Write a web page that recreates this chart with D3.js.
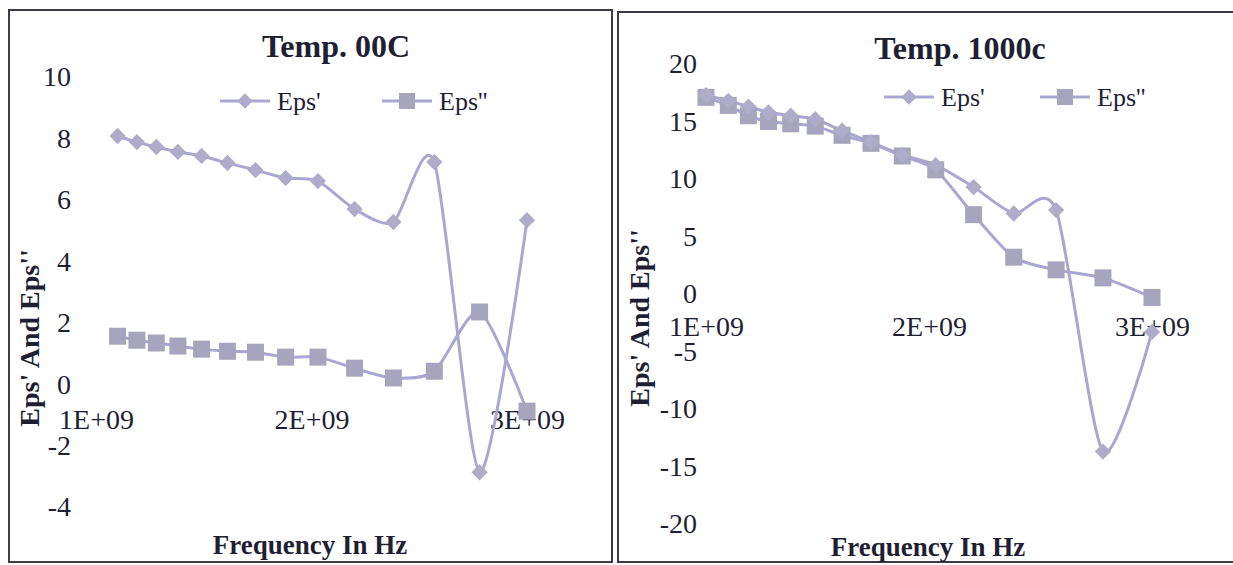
<!DOCTYPE html>
<html>
<head>
<meta charset="utf-8">
<script src="https://d3js.org/d3.v7.min.js"></script>
<title>Eps' and Eps'' vs frequency</title>
<style>
  body { margin: 0; background: #fff; }
  text { font-family: "Liberation Serif", "Times New Roman", serif; fill: #1f1f33; }
</style>
</head>
<body>
<script>
// frequencies in Hz (shared by both panels, left one starts at the 2nd)
var freq = [1.0e9, 1.1e9, 1.19e9, 1.28e9, 1.38e9, 1.49e9, 1.61e9, 1.74e9,
            1.88e9, 2.03e9, 2.2e9, 2.38e9, 2.57e9, 2.78e9, 3.0e9];

// Temp. 00C
var freq00 = freq.slice(1);
var epsP00  = [8.08, 7.88, 7.72, 7.56, 7.43, 7.2, 6.97, 6.71, 6.61, 5.7, 5.28, 7.23, -2.87, 5.34];
var epsPP00 = [1.56, 1.43, 1.34, 1.24, 1.14, 1.07, 1.04, 0.88, 0.88, 0.52, 0.2, 0.42, 2.35, -0.88];

// Temp. 1000c
var freq1000 = freq;
var epsP1000  = [17.3, 16.8, 16.3, 15.8, 15.5, 15.2, 14.2, 13.2, 12.1, 11.2, 9.3, 7.0, 7.3, -13.7, -3.3];
var epsPP1000 = [17.1, 16.4, 15.5, 15.0, 14.8, 14.6, 13.8, 13.1, 12.0, 10.8, 6.9, 3.2, 2.1, 1.4, -0.3];

var xTicks = [1e9, 2e9, 3e9];
var xTickLabels = ["1E+09", "2E+09", "3E+09"];
var yTicks00 = [-4, -2, 0, 2, 4, 6, 8, 10];
var yTicks1000 = [-20, -15, -10, -5, 0, 5, 10, 15, 20];
var seriesNames = ["Eps'", "Eps''"];

var lineColor = "#a9a7d1", diamondColor = "#aeacc9", squareColor = "#a6a5bd";

var svg = d3.select("body").append("svg")
    .attr("width", 1233)
    .attr("height", 565);

function drawPanel(p) {
  var g = svg.append("g");

  g.append("rect")
    .attr("x", p.box[0]).attr("y", p.box[1])
    .attr("width", p.box[2]).attr("height", p.box[3])
    .attr("fill", "none")
    .attr("stroke", "#3b3b4c")
    .attr("stroke-width", 2);

  var x = d3.scaleLinear().domain([1e9, 3e9]).range(p.xRange);
  var y = d3.scaleLinear().domain(p.yDomain).range(p.yRange);

  // y axis labels only (Excel style, no line)
  var yAxis = g.append("g")
    .attr("transform", "translate(" + p.yAxisX + ",0)")
    .call(d3.axisLeft(y).tickValues(p.yTicks).tickSize(0).tickPadding(0)
      .tickFormat(function(d) { return String(d); }));
  yAxis.select(".domain").remove();
  yAxis.selectAll("text")
    .style("font-family", "Liberation Serif")
    .style("font-size", "28px")
    .attr("fill", "#1f1f33");

  // x axis sits on y = 0
  var xAxis = g.append("g")
    .attr("transform", "translate(0," + y(0) + ")")
    .call(d3.axisBottom(x).tickValues(xTicks).tickSize(0).tickPadding(p.xPad)
      .tickFormat(function(d, i) { return xTickLabels[i]; }));
  xAxis.select(".domain").remove();
  xAxis.selectAll("text")
    .style("font-family", "Liberation Serif")
    .style("font-size", "28px")
    .attr("fill", "#1f1f33");

  var line = d3.line()
    .x(function(d) { return x(d[0]); })
    .y(function(d) { return y(d[1]); })
    .curve(d3.curveCardinal.tension(0.25));

  var s1 = d3.zip(p.freq, p.eps1), s2 = d3.zip(p.freq, p.eps2);

  [s1, s2].forEach(function(s) {
    g.append("path")
      .attr("d", line(s))
      .attr("fill", "none")
      .attr("stroke", lineColor)
      .attr("stroke-width", 3);
  });

  g.selectAll(".sq").data(s2).enter().append("rect")
    .attr("x", function(d) { return x(d[0]) - 8.5; })
    .attr("y", function(d) { return y(d[1]) - 8.5; })
    .attr("width", 17).attr("height", 17)
    .attr("fill", squareColor);

  g.selectAll(".dia").data(s1).enter().append("path")
    .attr("d", d3.symbol().type(d3.symbolDiamond2).size(170))
    .attr("transform", function(d) { return "translate(" + x(d[0]) + "," + y(d[1]) + ")"; })
    .attr("fill", diamondColor);

  // title
  g.append("text")
    .attr("x", p.titleX).attr("y", p.titleY)
    .attr("text-anchor", "middle")
    .style("font-size", "32px").style("font-weight", "bold")
    .text(p.title);

  // legend
  var leg = g.append("g").attr("transform", "translate(" + p.legend[0] + "," + p.legend[1] + ")");
  [0, 1].forEach(function(i) {
    var lx = i * p.legendGap;
    leg.append("line")
      .attr("x1", lx).attr("x2", lx + 50)
      .attr("y1", 0).attr("y2", 0)
      .attr("stroke", lineColor).attr("stroke-width", 3);
    if (i == 0) {
      leg.append("path")
        .attr("d", d3.symbol().type(d3.symbolDiamond2).size(150))
        .attr("transform", "translate(" + (lx + 25) + ",0)")
        .attr("fill", diamondColor);
    } else {
      leg.append("rect")
        .attr("x", lx + 17).attr("y", -8)
        .attr("width", 16).attr("height", 16)
        .attr("fill", squareColor);
    }
    leg.append("text")
      .attr("x", lx + 57).attr("y", 9)
      .style("font-size", "26px")
      .text(seriesNames[i]);
  });

  // axis titles
  g.append("text")
    .attr("x", p.xTitle[0]).attr("y", p.xTitle[1])
    .attr("text-anchor", "middle")
    .style("font-size", "27px").style("font-weight", "bold")
    .text("Frequency In Hz");

  g.append("text")
    .attr("transform", "translate(" + p.yTitle[0] + "," + p.yTitle[1] + ") rotate(-90)")
    .attr("text-anchor", "middle")
    .style("font-size", "28px").style("font-weight", "bold")
    .text("Eps' And Eps''");
}

drawPanel({
  box: [9, 10, 603, 552],
  xRange: [96, 527], yDomain: [-4, 10], yRange: [507, 77],
  yTicks: yTicks00, yAxisX: 71, xPad: 25,
  freq: freq00, eps1: epsP00, eps2: epsPP00,
  title: "Temp. 00C", titleX: 336, titleY: 57,
  legend: [220, 101], legendGap: 162,
  xTitle: [310, 554], yTitle: [39, 338]
});

drawPanel({
  box: [618, 12, 622, 550],
  xRange: [706, 1152], yDomain: [-20, 20], yRange: [524, 64],
  yTicks: yTicks1000, yAxisX: 697, xPad: 22,
  freq: freq1000, eps1: epsP1000, eps2: epsPP1000,
  title: "Temp. 1000c", titleX: 960, titleY: 59,
  legend: [884, 97], legendGap: 156,
  xTitle: [928, 556], yTitle: [649, 318]
});
</script>
</body>
</html>
